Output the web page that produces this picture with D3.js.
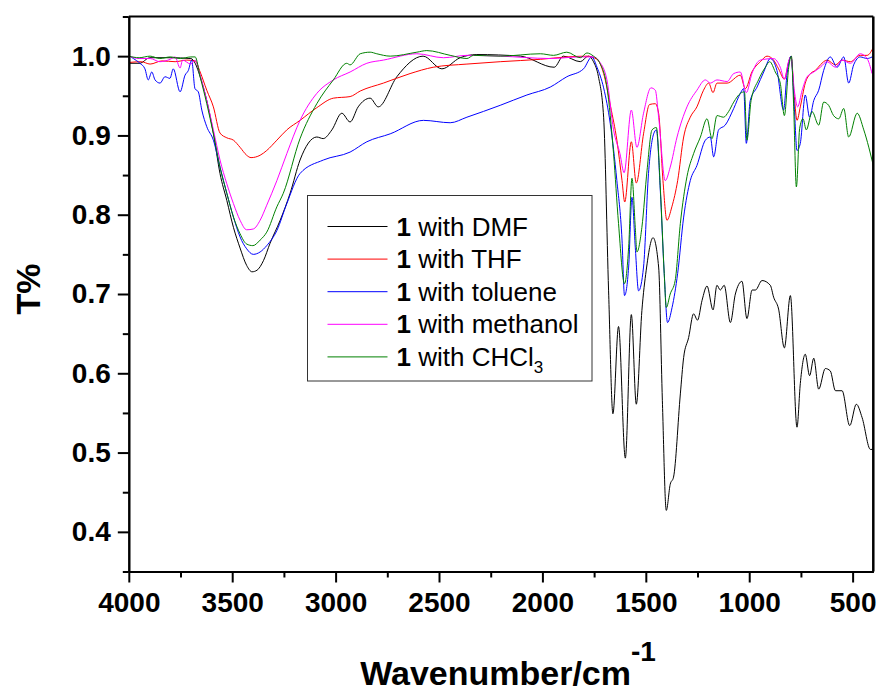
<!DOCTYPE html>
<html>
<head>
<meta charset="utf-8">
<script src="https://cdn.jsdelivr.net/npm/d3@7"></script>
<style>
  body { margin: 0; background: #fff; }
  text { font-family: "Liberation Sans", Arial, sans-serif; }
</style>
</head>
<body>
<svg id="chart" width="881" height="693"></svg>
<script>
// spectra: [wavenumber (cm-1), T]
const dmf = [[4000,0.991],[3946,0.991],[3900,0.998],[3800,0.998],[3700,0.997],[3679,0.991],[3655,0.974],[3623,0.944],[3591,0.903],[3559,0.852],[3526,0.818],[3494,0.784],[3462,0.758],[3430,0.736],[3404,0.728],[3380,0.730],[3349,0.742],[3317,0.764],[3268,0.793],[3220,0.827],[3172,0.869],[3091,0.898],[3060,0.896],[3018,0.907],[2970,0.928],[2930,0.917],[2891,0.936],[2833,0.947],[2794,0.936],[2704,0.974],[2577,1.000],[2486,0.984],[2398,0.998],[2317,1.002],[2107,1.000],[1943,0.986],[1899,1.000],[1817,0.993],[1778,1.000],[1753,0.993],[1729,0.974],[1704,0.923],[1680,0.704],[1659,0.549],[1632,0.659],[1599,0.493],[1570,0.674],[1546,0.561],[1519,0.679],[1498,0.730],[1465,0.771],[1438,0.734],[1420,0.566],[1401,0.427],[1382,0.460],[1366,0.469],[1333,0.574],[1317,0.620],[1293,0.645],[1269,0.675],[1250,0.667],[1228,0.692],[1204,0.710],[1175,0.680],[1156,0.711],[1140,0.705],[1121,0.711],[1091,0.664],[1067,0.700],[1035,0.716],[1011,0.669],[986,0.705],[970,0.705],[938,0.717],[898,0.711],[882,0.696],[858,0.681],[830,0.632],[801,0.698],[769,0.532],[753,0.587],[729,0.624],[708,0.597],[688,0.619],[664,0.580],[632,0.606],[608,0.603],[583,0.578],[551,0.578],[514,0.534],[482,0.561],[454,0.544],[414,0.504],[398,0.504]];

const thf = [[4000,0.992],[3940,0.993],[3897,0.990],[3840,0.994],[3776,0.993],[3720,0.995],[3679,0.994],[3655,0.980],[3623,0.957],[3591,0.936],[3559,0.903],[3526,0.897],[3494,0.894],[3462,0.885],[3430,0.875],[3409,0.872],[3365,0.875],[3333,0.881],[3284,0.894],[3236,0.907],[3172,0.919],[3091,0.935],[3011,0.947],[2930,0.949],[2881,0.956],[2769,0.966],[2640,0.978],[2528,0.986],[2365,0.990],[2204,0.993],[2010,0.996],[1882,0.999],[1785,1.000],[1736,0.996],[1704,0.978],[1670,0.936],[1640,0.894],[1615,0.843],[1602,0.816],[1570,0.892],[1546,0.840],[1511,0.902],[1482,0.939],[1454,0.940],[1438,0.928],[1417,0.843],[1398,0.793],[1374,0.810],[1346,0.843],[1317,0.898],[1285,0.923],[1253,0.936],[1221,0.957],[1196,0.966],[1175,0.954],[1156,0.966],[1107,0.966],[1043,0.976],[1019,0.959],[987,0.980],[946,0.993],[914,1.000],[882,0.995],[858,0.984],[830,0.971],[809,0.993],[798,1.000],[782,0.949],[769,0.919],[753,0.936],[729,0.966],[704,0.978],[680,0.982],[656,0.989],[624,0.995],[583,0.989],[551,0.995],[511,0.993],[463,1.001],[430,1.001],[398,1.012]];

const toluene = [[4000,1.001],[3978,0.997],[3946,0.991],[3922,0.984],[3906,0.970],[3889,0.980],[3873,0.970],[3849,0.966],[3825,0.974],[3801,0.972],[3785,0.984],[3752,0.955],[3728,0.976],[3712,0.982],[3696,0.995],[3680,0.959],[3664,0.955],[3647,0.932],[3623,0.911],[3591,0.894],[3559,0.860],[3526,0.827],[3494,0.797],[3462,0.772],[3430,0.757],[3398,0.750],[3365,0.753],[3333,0.761],[3284,0.780],[3236,0.814],[3172,0.852],[3059,0.869],[2930,0.879],[2849,0.892],[2736,0.902],[2575,0.919],[2446,0.916],[2365,0.923],[2204,0.938],[2075,0.951],[1962,0.961],[1882,0.974],[1801,0.984],[1761,0.999],[1736,0.986],[1704,0.960],[1672,0.915],[1640,0.843],[1615,0.768],[1603,0.698],[1583,0.734],[1567,0.822],[1551,0.759],[1535,0.704],[1511,0.734],[1487,0.852],[1462,0.902],[1449,0.907],[1430,0.831],[1411,0.726],[1395,0.664],[1373,0.683],[1346,0.726],[1317,0.797],[1285,0.843],[1253,0.862],[1212,0.894],[1188,0.898],[1172,0.873],[1148,0.907],[1116,0.913],[1075,0.934],[1043,0.953],[1027,0.959],[1014,0.890],[995,0.944],[962,0.961],[930,0.980],[898,0.997],[866,0.982],[834,0.932],[817,0.978],[798,1.000],[782,0.936],[769,0.881],[753,0.890],[729,0.951],[708,0.923],[688,0.944],[664,0.957],[640,0.982],[608,0.999],[575,0.986],[543,0.999],[519,0.966],[495,0.989],[463,0.999],[430,0.997],[406,0.999]];

const methanol = [[4000,1.000],[3950,0.997],[3897,0.997],[3850,0.993],[3800,0.996],[3776,0.999],[3752,0.985],[3740,0.995],[3700,0.990],[3679,0.995],[3655,0.976],[3623,0.944],[3591,0.907],[3559,0.869],[3526,0.839],[3494,0.814],[3462,0.793],[3430,0.781],[3398,0.782],[3365,0.793],[3333,0.812],[3284,0.843],[3236,0.877],[3172,0.919],[3091,0.953],[3011,0.970],[2930,0.980],[2849,0.991],[2769,0.995],[2607,1.003],[2478,0.998],[2365,1.001],[2204,1.000],[1962,0.997],[1817,0.999],[1753,0.999],[1724,0.993],[1688,0.970],[1656,0.907],[1625,0.877],[1605,0.853],[1570,0.932],[1543,0.885],[1511,0.928],[1475,0.960],[1454,0.957],[1438,0.923],[1406,0.843],[1382,0.860],[1349,0.898],[1301,0.936],[1253,0.957],[1212,0.970],[1188,0.966],[1156,0.970],[1107,0.968],[1075,0.978],[1043,0.980],[1014,0.954],[987,0.978],[946,0.995],[882,0.997],[850,0.986],[830,0.971],[809,0.994],[798,0.999],[782,0.957],[766,0.936],[744,0.957],[720,0.974],[688,0.980],[656,0.986],[624,0.993],[583,0.986],[551,0.995],[511,0.991],[463,1.003],[430,0.997],[406,0.978]];

const chcl3 = [[4000,1.000],[3950,0.998],[3897,1.000],[3850,0.997],[3800,0.999],[3750,0.997],[3700,0.999],[3679,0.999],[3655,0.974],[3623,0.940],[3591,0.902],[3559,0.860],[3526,0.827],[3494,0.797],[3462,0.776],[3430,0.763],[3400,0.761],[3365,0.768],[3333,0.778],[3284,0.810],[3253,0.827],[3172,0.896],[3091,0.940],[3011,0.970],[2946,0.991],[2930,0.989],[2881,1.003],[2833,1.005],[2801,1.003],[2736,1.000],[2607,1.005],[2559,1.007],[2446,1.001],[2365,0.997],[2333,1.001],[2204,1.000],[2010,1.003],[1946,1.001],[1882,1.005],[1817,0.998],[1785,1.004],[1753,1.000],[1724,0.992],[1688,0.961],[1656,0.877],[1632,0.789],[1603,0.713],[1583,0.759],[1567,0.846],[1551,0.784],[1543,0.753],[1519,0.784],[1494,0.856],[1470,0.907],[1449,0.910],[1430,0.835],[1411,0.726],[1401,0.683],[1382,0.700],[1358,0.717],[1333,0.789],[1301,0.848],[1269,0.877],[1236,0.898],[1204,0.921],[1180,0.896],[1156,0.925],[1124,0.923],[1100,0.930],[1075,0.942],[1043,0.953],[1023,0.955],[1011,0.894],[991,0.944],[955,0.970],[922,0.986],[901,0.993],[874,0.980],[850,0.966],[830,0.925],[809,0.986],[796,1.000],[785,0.936],[772,0.835],[756,0.909],[740,0.921],[724,0.907],[696,0.930],[664,0.913],[640,0.942],[616,0.938],[592,0.925],[567,0.921],[543,0.934],[519,0.898],[478,0.928],[446,0.907],[398,0.860]];

const seriesNames = ['DMF', 'THF', 'toluene', 'methanol', 'CHCl3'];
const seriesData = [dmf, thf, toluene, methanol, chcl3];
const xTickValues = [4000, 3500, 3000, 2500, 2000, 1500, 1000, 500];
const xMinorValues = [3750, 3250, 2750, 2250, 1750, 1250, 750];
const yTickValues = [0.4, 0.5, 0.6, 0.7, 0.8, 0.9, 1.0];
const yMinorValues = [0.35, 0.45, 0.55, 0.65, 0.75, 0.85, 0.95, 1.05];

const colors = ['#000000', '#ff0000', '#0000ff', '#ff00ff', '#008000'];

const svg = d3.select('#chart');
const margin = { top: 16.5, right: 7.7, bottom: 121.5, left: 128.8 };
const width = +svg.attr('width');
const height = +svg.attr('height');
const innerWidth = width - margin.left - margin.right;
const innerHeight = height - margin.top - margin.bottom;

const g = svg.append('g').attr('transform', `translate(${margin.left},${margin.top})`);

const xScale = d3.scaleLinear().domain([4000, 400]).range([0, innerWidth]);
const yScale = d3.scaleLinear().domain([0.35, 1.05]).range([innerHeight, 0]);

g.append('clipPath').attr('id', 'plot-clip')
  .append('rect').attr('width', innerWidth).attr('height', innerHeight);

// spectra
const line = d3.line()
  .x(d => xScale(d[0]))
  .y(d => yScale(d[1]))
  .curve(d3.curveMonotoneX);

g.append('g').attr('clip-path', 'url(#plot-clip)')
  .selectAll('path').data(seriesData)
  .enter().append('path')
  .attr('d', line)
  .attr('fill', 'none')
  .attr('stroke', (d, i) => colors[i])
  .attr('stroke-width', 1);

// axes
const styleAxis = sel => {
  sel.select('.domain').attr('stroke', '#000').attr('stroke-width', 2);
  sel.selectAll('.tick line').attr('stroke', '#000').attr('stroke-width', 2);
  sel.selectAll('.tick text')
    .attr('fill', '#000')
    .style('font-size', '28px')
    .style('font-weight', 'bold');
};
const dropLabels = sel => sel.selectAll('.tick text').remove();

const xAxis = d3.axisBottom(xScale).tickValues(xTickValues).tickFormat(d3.format('d'))
  .tickSize(11).tickSizeOuter(0).tickPadding(10);
g.append('g').attr('transform', `translate(0,${innerHeight})`).call(xAxis).call(styleAxis);

g.append('g').attr('transform', `translate(0,${innerHeight})`)
  .call(d3.axisBottom(xScale).tickValues(xMinorValues).tickSize(6).tickSizeOuter(0))
  .call(styleAxis).call(dropLabels);

const yAxis = d3.axisLeft(yScale).tickValues(yTickValues).tickFormat(d3.format('.1f'))
  .tickSize(11).tickSizeOuter(0).tickPadding(7);
g.append('g').call(yAxis).call(styleAxis);

g.append('g')
  .call(d3.axisLeft(yScale).tickValues(yMinorValues).tickSize(6).tickSizeOuter(0))
  .call(styleAxis).call(dropLabels);

// top and right frame
g.append('line').attr('x1', 0).attr('x2', innerWidth).attr('y1', 0).attr('y2', 0)
  .attr('stroke', '#000').attr('stroke-width', 2);
g.append('line').attr('x1', innerWidth).attr('x2', innerWidth).attr('y1', 0).attr('y2', innerHeight)
  .attr('stroke', '#000').attr('stroke-width', 2.5);

// axis titles
const xTitle = svg.append('text')
  .attr('x', margin.left + innerWidth / 2 + 7)
  .attr('y', 685)
  .attr('text-anchor', 'middle')
  .style('font-size', '34px')
  .style('font-weight', 'bold');
xTitle.append('tspan').text('Wavenumber/cm');
xTitle.append('tspan').attr('dy', -24).style('font-size', '28px').text('-1');

svg.append('text')
  .attr('transform', 'translate(40,289) rotate(-90)')
  .attr('text-anchor', 'middle')
  .style('font-size', '34px')
  .style('font-weight', 'bold')
  .text('T%');

// legend
const legend = svg.append('g').attr('transform', 'translate(307.5,195.5)');
legend.append('rect')
  .attr('width', 284.5).attr('height', 185.5)
  .attr('fill', '#fff').attr('stroke', '#333').attr('stroke-width', 1);

const rows = legend.selectAll('g.row').data(seriesNames)
  .enter().append('g')
  .attr('class', 'row')
  .attr('transform', (d, i) => `translate(0,${31 + i * 32.6})`);

rows.append('line')
  .attr('x1', 20).attr('x2', 80)
  .attr('stroke', (d, i) => colors[i]).attr('stroke-width', 1);

rows.append('text')
  .attr('x', 89).attr('y', 9)
  .style('font-size', '26px')
  .each(function (d) {
    const t = d3.select(this);
    t.append('tspan').style('font-weight', 'bold').text('1');
    if (d === 'CHCl3') {
      t.append('tspan').text(' with CHCl');
      t.append('tspan').attr('dy', 7).style('font-size', '17px').text('3');
    } else {
      t.append('tspan').text(' with ' + d);
    }
  });
</script>
</body>
</html>
